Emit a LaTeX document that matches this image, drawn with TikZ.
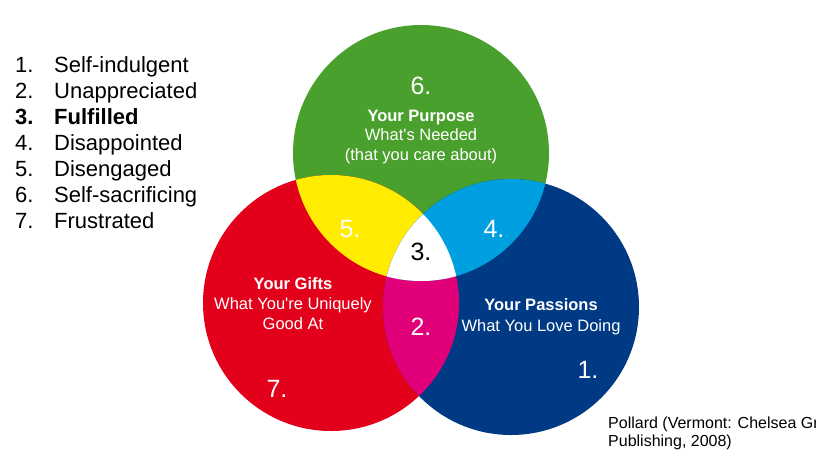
\documentclass[tikz,border=0pt]{standalone}
\usepackage{fontspec}
\setmainfont{Liberation Sans}
\usetikzlibrary{positioning}
\definecolor{purposegreen}{HTML}{4AA02C}
\definecolor{giftsred}{HTML}{E2001A}
\definecolor{passionblue}{HTML}{003A84}
\definecolor{lensyellow}{HTML}{FFEC00}
\definecolor{lenscyan}{HTML}{009FE0}
\definecolor{lenspink}{HTML}{E2007A}
\tikzset{
  numlabel/.style={anchor=base,text=white,inner sep=0pt,font=\fontsize{25}{28}\selectfont},
  circtext/.style={anchor=base,text=white,inner sep=0pt,font=\fontsize{16.5}{19}\selectfont},
  listitem/.style={anchor=base west,inner sep=0pt,font=\fontsize{22}{26}\selectfont},
  citetext/.style={anchor=base west,inner sep=0pt,font=\fontsize{16}{18}\selectfont}
}
\begin{document}
\begin{tikzpicture}[x=1pt,y=-1pt]
\useasboundingbox (0,0) rectangle (816,451);
\clip (0,0) rectangle (816,451);
% circle centres
\coordinate (purpose) at (421,153);
\coordinate (gifts) at (331,303);
\coordinate (passions) at (511,307);
\def\rad{128pt}
\fill[purposegreen] (purpose) circle (\rad);
\fill[giftsred] (gifts) circle (\rad);
\fill[passionblue] (passions) circle (\rad);
% overlaps
\begin{scope}
  \clip (gifts) circle (\rad);
  \fill[lensyellow] (purpose) circle (\rad);
  \fill[lenspink] (passions) circle (\rad);
\end{scope}
\begin{scope}
  \clip (purpose) circle (\rad);
  \fill[lenscyan] (passions) circle (\rad);
  \clip (gifts) circle (\rad);
  \fill[white] (passions) circle (\rad);
\end{scope}
% numbers
\node[numlabel] (n6) at (421,94) {6.};
\node[numlabel] (n5) at (350,237) {5.};
\node[numlabel,text=black] (n3) at (421,260) {3.};
\node[numlabel] (n4) at (494,237) {4.};
\node[numlabel] (n2) at (421,335) {2.};
\node[numlabel] (n1) at (588,378) {1.};
\node[numlabel] (n7) at (277,397) {7.};
% circle titles
\node[circtext] (purposeA) at (421,121) {\bfseries Your Purpose};
\node[circtext] (purposeB) at (421,140.5) {What\textquotesingle s Needed};
\node[circtext] (purposeC) at (421,160) {(that you care about)};
\node[circtext] (giftsA) at (293,289) {\bfseries Your Gifts};
\node[circtext] (giftsB) at (293,309) {What You\textquotesingle re Uniquely};
\node[circtext] (giftsC) at (293,329) {Good At};
\node[circtext] (passionsA) at (541,310) {\bfseries Your Passions};
\node[circtext] (passionsB) at (541,331) {What You Love Doing};
% key
\node[listitem] (k1) at (15,72) {1.};
\node[listitem] (t1) at (54,72) {Self-indulgent};
\node[listitem] (k2) at (15,98) {2.};
\node[listitem] (t2) at (54,98) {Unappreciated};
\node[listitem] (k3) at (15,124) {\bfseries 3.};
\node[listitem] (t3) at (54,124) {\bfseries Fulfilled};
\node[listitem] (k4) at (15,150) {4.};
\node[listitem] (t4) at (54,150) {Disappointed};
\node[listitem] (k5) at (15,176) {5.};
\node[listitem] (t5) at (54,176) {Disengaged};
\node[listitem] (k6) at (15,202) {6.};
\node[listitem] (t6) at (54,202) {Self-sacrificing};
\node[listitem] (k7) at (15,228) {7.};
\node[listitem] (t7) at (54,228) {Frustrated};
% source
\node[citetext] (src1) at (608,428) {Pollard (Vermont: Chelsea Green};
\node[citetext] (src2) at (608,446) {Publishing, 2008)};
\end{tikzpicture}
\end{document}
